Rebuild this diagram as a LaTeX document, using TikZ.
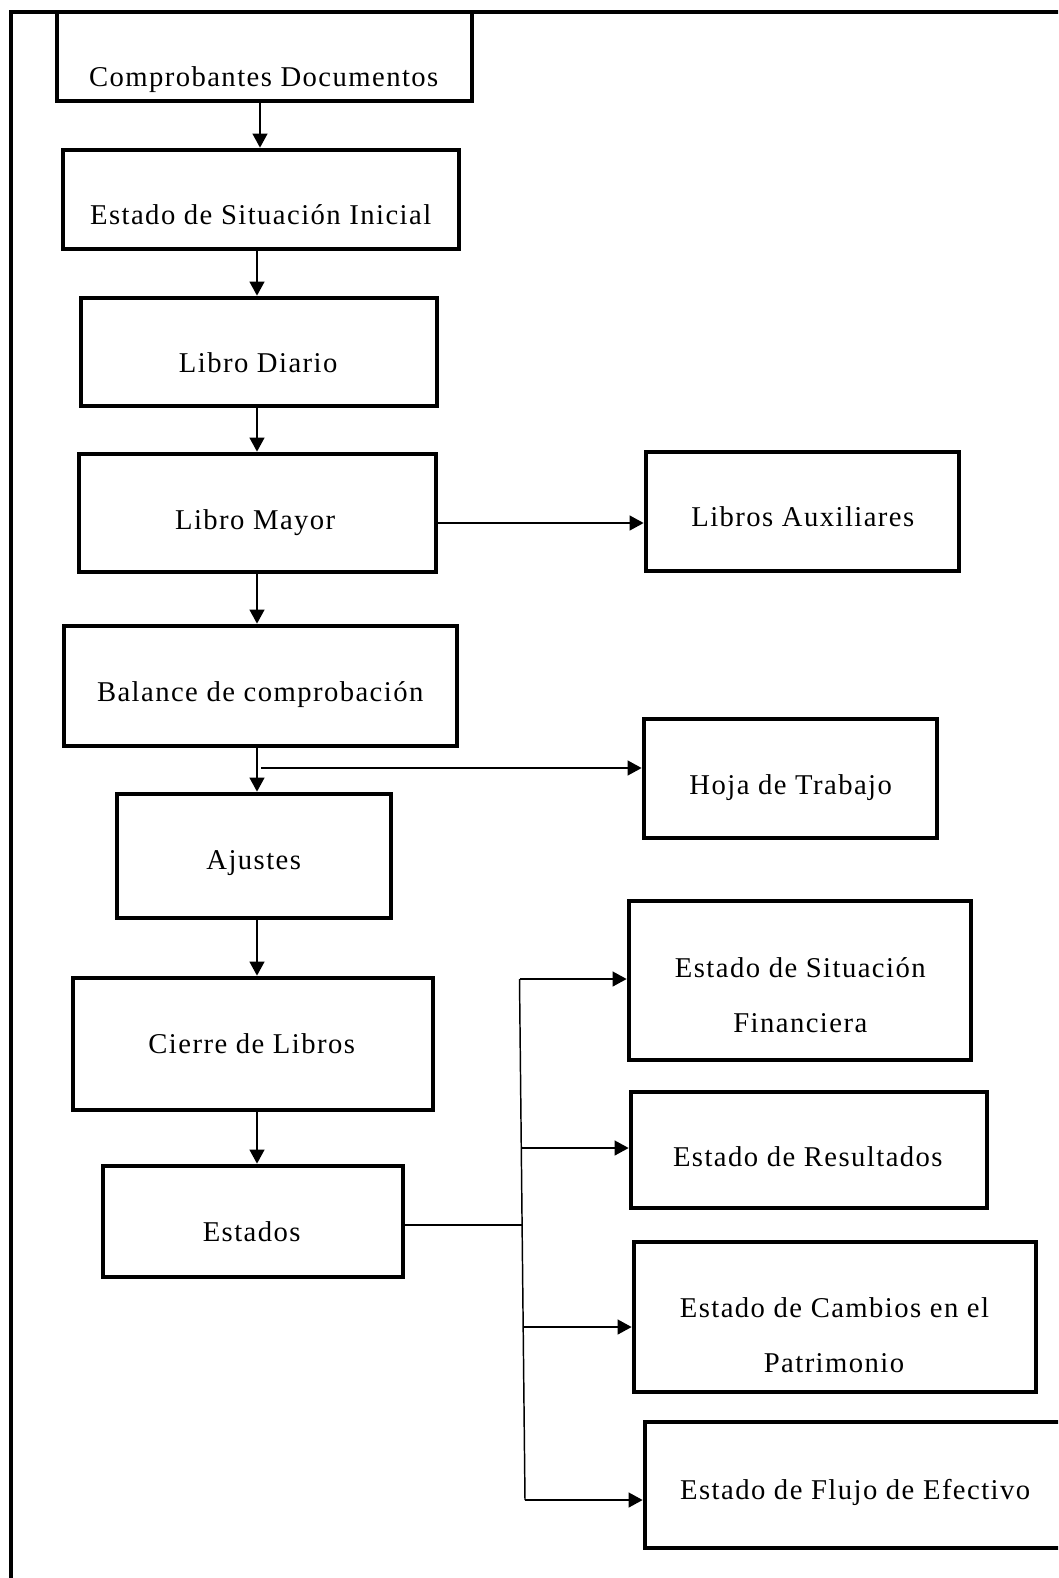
\documentclass[tikz,border=0pt]{standalone}
\usepackage{fontspec}
\usetikzlibrary{arrows.meta,fit}
\newfontfamily\diagfont[LetterSpace=5]{Liberation Serif}

\tikzset{
  frameline/.style={line width=3.5pt},
  box/.style={draw, line width=3.5pt, inner sep=0pt, fill=none},
  lbl/.style={font=\diagfont\fontsize{21.5}{26}\selectfont, anchor=base, inner sep=0pt},
  arr/.style={line width=1.6pt, -{Triangle[length=10.5pt,width=11pt]}},
  bus/.style={line width=1.1pt},
  link/.style={line width=1.5pt}
}

\begin{document}
\begin{tikzpicture}[x=0.75pt, y=-0.75pt]
\useasboundingbox (0,0) rectangle (1058,1578);
\clip (0,0) rectangle (1058,1578);
\fill[white] (0,0) rectangle (1058,1578);

% outer frame (runs past the right and bottom page edges)
\draw[frameline] (11,1620) -- (11,12) -- (1090,12);

% corner points of the boxes
\coordinate (cbA) at (57,12);    \coordinate (cbB) at (472,101);
\coordinate (esiA) at (63,150);  \coordinate (esiB) at (459,249);
\coordinate (ldA) at (81,298);   \coordinate (ldB) at (437,406);
\coordinate (lmA) at (79,454);   \coordinate (lmB) at (436,572);
\coordinate (laA) at (646,452);  \coordinate (laB) at (959,571);
\coordinate (bcA) at (64,626);   \coordinate (bcB) at (457,746);
\coordinate (htA) at (644,719);  \coordinate (htB) at (937,838);
\coordinate (ajA) at (117,794);  \coordinate (ajB) at (391,918);
\coordinate (clA) at (73,978);   \coordinate (clB) at (433,1110);
\coordinate (esA) at (103,1166); \coordinate (esB) at (403,1277);
\coordinate (esfA) at (629,901); \coordinate (esfB) at (971,1060);
\coordinate (erA) at (631,1092); \coordinate (erB) at (987,1208);
\coordinate (ecpA) at (634,1242);\coordinate (ecpB) at (1036,1392);
\coordinate (efeA) at (645,1422);\coordinate (efeB) at (1080,1548);

% boxes
\node[box, fit=(cbA)(cbB)] (cb) {};
\node[box, fit=(esiA)(esiB)] (esi) {};
\node[box, fit=(ldA)(ldB)] (ld) {};
\node[box, fit=(lmA)(lmB)] (lm) {};
\node[box, fit=(laA)(laB)] (la) {};
\node[box, fit=(bcA)(bcB)] (bc) {};
\node[box, fit=(htA)(htB)] (ht) {};
\node[box, fit=(ajA)(ajB)] (aj) {};
\node[box, fit=(clA)(clB)] (cl) {};
\node[box, fit=(esA)(esB)] (es) {};
\node[box, fit=(esfA)(esfB)] (esf) {};
\node[box, fit=(erA)(erB)] (er) {};
\node[box, fit=(ecpA)(ecpB)] (ecp) {};
\node[box, fit=(efeA)(efeB)] (efe) {};

% texts
\node[lbl] (tcb) at (263.7,86) {Comprobantes Documentos};
\node[lbl] (tesi) at (260.7,224) {Estado de Situación Inicial};
\node[lbl] (tld) at (258.2,372.5) {Libro Diario};
\node[lbl] (tlm) at (255.2,529) {Libro Mayor};
\node[lbl] (tla) at (802.8,526.3) {Libros Auxiliares};
\node[lbl] (tbc) at (260.2,701) {Balance de comprobación};
\node[lbl] (tht) at (790.7,794) {Hoja de Trabajo};
\node[lbl] (taj) at (253.7,869) {Ajustes};
\node[lbl] (tesfa) at (800.3,977.2) {Estado de Situación};
\node[lbl] (tesfb) at (800.3,1032.5) {Financiera};
\node[lbl] (tcl) at (251.7,1053) {Cierre de Libros};
\node[lbl] (ter) at (807.8,1166.5) {Estado de Resultados};
\node[lbl] (tes) at (251.7,1241) {Estados};
\node[lbl] (tecpa) at (834.5,1317.5) {Estado de Cambios en el};
\node[lbl] (tecpb) at (834,1372.5) {Patrimonio};
\node[lbl] (tefe) at (855.2,1499) {Estado de Flujo de Efectivo};

% main vertical chain
\coordinate (xa) at (260,0);
\coordinate (xb) at (257,0);
\draw[arr] (cb.south -| xa) -- (esi.north -| xa);
\draw[arr] (esi.south -| xb) -- (ld.north -| xb);
\draw[arr] (ld.south -| xb) -- (lm.north -| xb);
\draw[arr] (lm.south -| xb) -- (bc.north -| xb);
\draw[arr] (bc.south -| xb) -- (aj.north -| xb);
\draw[arr] (aj.south -| xb) -- (cl.north -| xb);
\draw[arr] (cl.south -| xb) -- (es.north -| xb);

% side branches
\coordinate (lmy) at (0,523);
\draw[arr] (lm.east |- lmy) -- (la.west |- lmy);
\coordinate (hj) at (261,768);
\draw[arr] (hj) -- (hj -| ht.west);

% financial statements bus
\coordinate (bt) at (519.5,979);
\coordinate (bb) at (525,1500);
\coordinate (ej) at (522,1225);
\coordinate (s2) at (521.3,1148);
\coordinate (s3) at (523.5,1327);
\draw[bus] (bt) -- (bb);
\draw[link] (es.east |- ej) -- (ej);
\draw[arr] (bt) -- (bt -| esf.west);
\draw[arr] (s2) -- (s2 -| er.west);
\draw[arr] (s3) -- (s3 -| ecp.west);
\draw[arr] (bb) -- (bb -| efe.west);
\end{tikzpicture}
\end{document}
